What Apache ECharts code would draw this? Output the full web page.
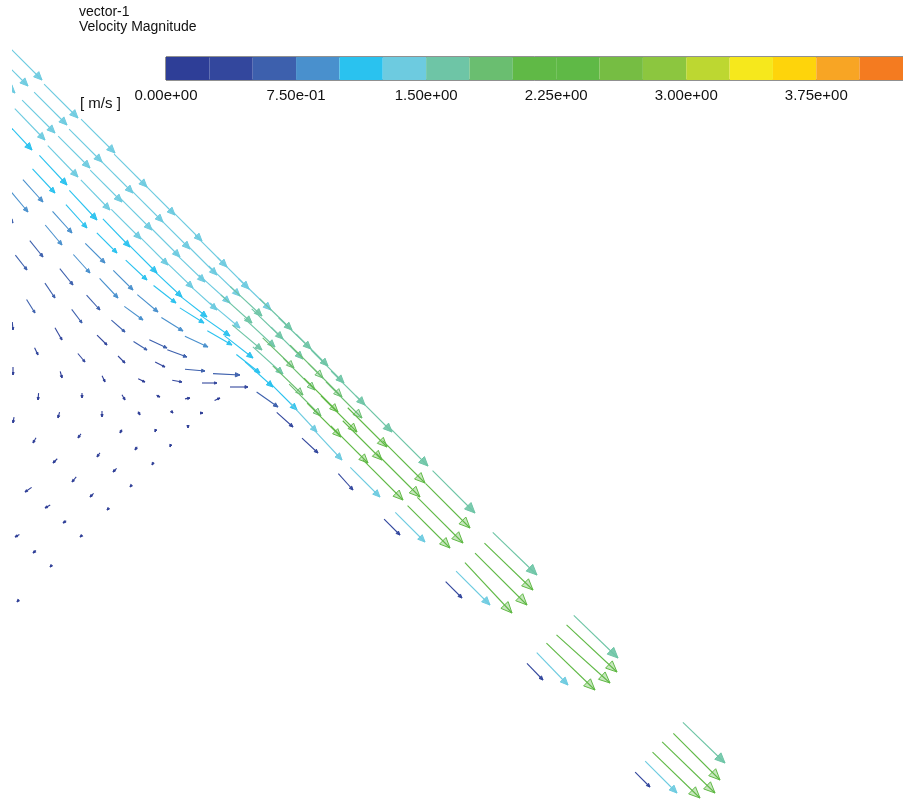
<!DOCTYPE html>
<html>
<head>
<meta charset="utf-8">
<script src="https://cdn.jsdelivr.net/npm/echarts@6/dist/echarts.min.js"></script>
<style>
  html, body { margin: 0; padding: 0; background: #ffffff; }
  #chart { width: 903px; height: 804px; }
</style>
</head>
<body>
<div id="chart"></div>
<script>
// Velocity-magnitude colour scale: 0.25 m/s per band
const bandStep = 0.25;
const bandColors = [
  '#2e3e97', '#33479d', '#3d60ad', '#4990cd', '#2ac2ef', '#6dcbe0', '#6ec5a6', '#6abe70',
  '#60b946', '#5fb946', '#76bd43', '#8cc63f', '#bdd731', '#f6e81c', '#fed40b', '#f8a524',
  '#f47b20', '#ef5523', '#e83526', '#e0202a'
];
const scaleMin = 0;
const scaleMax = 4.25;
const scaleTickStep = 0.75;

// Vector rows: [tipX, tipY, direction (deg, clockwise from +x), in-plane speed (m/s), velocity magnitude (m/s)]
const lineA = [
  [42, 80, 45, 1.6, 1.40], [78, 118, 45, 1.6, 1.40], [115, 153, 45, 1.6, 1.41], [147, 187, 45, 1.55, 1.42],
  [175, 215, 45, 1.5, 1.43], [202, 241, 45, 1.5, 1.44], [227, 267, 45, 1.5, 1.45], [249, 289, 45, 1.5, 1.46],
  [271, 310, 44, 1.5, 1.48], [292, 330, 44, 1.5, 1.50], [311, 349, 44, 1.5, 1.52], [328, 366, 45, 1.5, 1.55],
  [344, 383, 45, 1.55, 1.57], [365, 405, 45, 1.6, 1.60], [392, 432, 45, 1.7, 1.62], [428, 466, 45, 1.8, 1.64],
  [475, 513, 45, 2.0, 1.66],
  [537, 575, 44, 2.05, 1.68], [618, 658, 44, 2.05, 1.68], [725, 763, 44, 1.95, 1.66]
];
const lineB = [
  [28, 86, 45, 1.55, 1.38], [67, 125, 45, 1.55, 1.38], [102, 162, 45, 1.55, 1.39], [133, 193, 45, 1.5, 1.40],
  [163, 222, 45, 1.5, 1.41], [190, 249, 45, 1.5, 1.42], [217, 275, 45, 1.45, 1.44], [240, 296, 44, 1.45, 1.46],
  [262, 316, 43, 1.45, 1.50], [283, 339, 44, 1.45, 1.58], [303, 359, 45, 1.5, 1.70], [323, 378, 45, 1.55, 1.80],
  [342, 397, 45, 1.6, 1.88], [362, 418, 45, 1.7, 1.95], [387, 447, 45, 1.85, 2.00], [425, 483, 45, 2.0, 2.02],
  [470, 528, 45, 2.1, 2.04],
  [533, 590, 44, 2.25, 2.05], [617, 672, 43, 2.3, 2.05], [720, 780, 45, 2.2, 2.05]
];
const lineC = [
  [15, 93, 45, 1.55, 1.37], [55, 133, 45, 1.55, 1.37], [90, 168, 45, 1.5, 1.38], [122, 202, 45, 1.5, 1.39],
  [152, 230, 45, 1.5, 1.40], [180, 257, 45, 1.45, 1.42], [205, 282, 44, 1.45, 1.44], [230, 303, 42, 1.4, 1.47],
  [252, 323, 42, 1.4, 1.52], [275, 347, 43, 1.4, 1.62], [294, 368, 44, 1.45, 1.78], [315, 390, 45, 1.5, 1.92],
  [338, 412, 45, 1.6, 2.02], [357, 432, 45, 1.7, 2.08], [382, 460, 45, 1.85, 2.12], [420, 497, 45, 2.05, 2.14],
  [463, 543, 45, 2.15, 2.15],
  [527, 605, 45, 2.45, 2.15], [610, 683, 42, 2.4, 2.15], [715, 793, 44, 2.45, 2.15]
];
const lineD = [
  [45, 140, 46, 1.45, 1.30], [78, 177, 46, 1.45, 1.30], [110, 210, 46, 1.4, 1.31], [141, 239, 45, 1.4, 1.32],
  [168, 265, 45, 1.35, 1.34], [193, 288, 44, 1.35, 1.36], [217, 310, 42, 1.3, 1.39], [240, 328, 40, 1.3, 1.43],
  [262, 350, 40, 1.3, 1.50], [283, 374, 42, 1.35, 1.62], [303, 395, 44, 1.4, 1.80], [321, 416, 45, 1.5, 1.95],
  [341, 437, 45, 1.6, 2.05], [368, 463, 45, 1.75, 2.10], [403, 500, 45, 1.9, 2.12], [450, 548, 45, 2.0, 2.12],
  [512, 613, 47, 2.3, 2.10], [595, 690, 44, 2.25, 2.10], [700, 798, 44, 2.2, 2.10]
];
const lineE = [
  [32, 150, 47, 1.4, 1.20], [67, 185, 47, 1.35, 1.20], [97, 220, 47, 1.35, 1.20], [130, 247, 46, 1.3, 1.20],
  [157, 273, 45, 1.3, 1.20], [182, 297, 43, 1.25, 1.20], [207, 317, 38, 1.2, 1.20], [230, 336, 35, 1.2, 1.20],
  [253, 358, 38, 1.2, 1.18], [273, 387, 42, 1.25, 1.15], [297, 410, 45, 1.3, 1.20], [317, 432, 47, 1.3, 1.25],
  [342, 460, 47, 1.35, 1.30], [380, 497, 45, 1.4, 1.32], [425, 542, 45, 1.4, 1.34],
  [490, 605, 45, 1.6, 1.38], [568, 685, 46, 1.5, 1.38], [677, 793, 45, 1.5, 1.38]
];
const lineF = [
  [55, 193, 47, 1.1, 1.10], [87, 228, 48, 1.05, 1.10], [117, 253, 45, 0.95, 1.10], [147, 280, 43, 0.97, 1.12],
  [176, 303, 38, 0.95, 1.12], [204, 323, 32, 0.95, 1.12], [232, 345, 30, 0.95, 1.14], [260, 373, 38, 1.0, 1.12]
];
const lineG = [
  [43, 202, 48, 1.0, 0.95], [72, 233, 48, 0.97, 0.95], [105, 263, 45, 0.93, 0.92], [133, 290, 45, 0.93, 0.90],
  [158, 312, 40, 0.9, 0.88], [183, 331, 32, 0.85, 0.85], [208, 347, 25, 0.85, 0.82]
];
const lineH = [
  [28, 212, 50, 0.95, 0.85], [62, 245, 50, 0.87, 0.82], [90, 273, 48, 0.83, 0.80], [118, 298, 47, 0.9, 0.78],
  [143, 320, 36, 0.77, 0.75], [167, 348, 25, 0.65, 0.62]
];
const lineI = [
  [13, 223, 55, 0.7, 0.70], [43, 257, 51, 0.7, 0.68], [73, 285, 51, 0.7, 0.65], [100, 310, 48, 0.67, 0.60],
  [125, 332, 41, 0.6, 0.55], [147, 350, 32, 0.53, 0.50]
];
const lineJ = [
  [27, 270, 52, 0.63, 0.60], [55, 298, 56, 0.6, 0.56], [82, 323, 53, 0.57, 0.50], [107, 345, 45, 0.47, 0.42]
];
const lineK = [
  [35, 313, 58, 0.53, 0.50], [62, 340, 60, 0.47, 0.42], [85, 362, 50, 0.37, 0.32],
  [13, 330, 85, 0.27, 0.28], [38, 355, 65, 0.27, 0.25], [13, 375, 90, 0.27, 0.22]
];
// slow stream entering the jet from below, and the lowest jet row
const feeder = [
  [187, 357, 20, 0.7, 0.55], [205, 371, 5, 0.67, 0.50], [240, 375, 3, 0.9, 0.62], [217, 383, 0, 0.5, 0.38],
  [248, 387, 0, 0.6, 0.42], [278, 407, 35, 0.87, 0.50], [293, 427, 42, 0.73, 0.42], [318, 453, 43, 0.73, 0.38],
  [353, 490, 48, 0.73, 0.35], [400, 535, 45, 0.75, 0.35],
  [462, 598, 45, 0.77, 0.32], [543, 680, 46, 0.77, 0.32], [650, 787, 45, 0.7, 0.32]
];
// recirculation zone under the jet
const recirculation = [
  [125, 363, 45, 0.33, 0.30], [165, 367, 27, 0.37, 0.30], [62, 378, 75, 0.23, 0.20], [105, 382, 65, 0.23, 0.20],
  [145, 382, 25, 0.25, 0.20], [182, 382, 10, 0.33, 0.25], [38, 400, 95, 0.23, 0.15], [82, 398, 90, 0.17, 0.12],
  [125, 400, 60, 0.2, 0.12], [160, 397, 25, 0.13, 0.10], [190, 398, -10, 0.17, 0.10], [220, 398, -25, 0.2, 0.12],
  [13, 423, 100, 0.2, 0.12], [58, 418, 105, 0.2, 0.12], [102, 417, 90, 0.2, 0.12], [140, 415, 60, 0.13, 0.08],
  [173, 413, 45, 0.07, 0.05], [203, 413, 0, 0.07, 0.05], [33, 443, 120, 0.2, 0.12], [78, 438, 125, 0.17, 0.10],
  [120, 433, 120, 0.13, 0.08], [155, 432, 110, 0.1, 0.06], [188, 428, 90, 0.07, 0.04], [53, 463, 135, 0.2, 0.12],
  [97, 457, 125, 0.17, 0.10], [135, 450, 125, 0.13, 0.08], [170, 447, 110, 0.07, 0.04], [25, 492, 145, 0.27, 0.15],
  [72, 482, 130, 0.22, 0.12], [113, 472, 135, 0.17, 0.10], [152, 465, 120, 0.1, 0.06], [45, 508, 150, 0.2, 0.12],
  [90, 497, 135, 0.17, 0.10], [130, 487, 130, 0.07, 0.04], [63, 523, 145, 0.13, 0.08], [107, 510, 135, 0.07, 0.04],
  [15, 537, 150, 0.17, 0.10], [80, 537, 140, 0.1, 0.06], [33, 553, 140, 0.13, 0.08], [50, 567, 135, 0.07, 0.04],
  [17, 602, 130, 0.1, 0.06]
];

const vectors = [].concat(lineA, lineB, lineC, lineD, lineE, lineF, lineG, lineH, lineI, lineJ, lineK,
  feeder, recirculation);
const bands = bandColors.map((c, i) => [i * bandStep, (i + 1) * bandStep, i]);

// arrow length per m/s of in-plane speed, in plot units
const ARROW_SCALE = 30;
const FONT = '"Liberation Sans", Arial, sans-serif';

function bandIndex(v) {
  return Math.max(0, Math.min(bandColors.length - 1, Math.floor(v / bandStep)));
}

function sci(v) {
  const parts = Number(v).toExponential(2).split('e');
  const n = parseInt(parts[1], 10);
  return parts[0] + 'e' + (n < 0 ? '-' : '+') + String(Math.abs(n)).padStart(2, '0');
}

function renderArrow(params, api) {
  const tx = api.value(0), ty = api.value(1);
  const a = api.value(2) * Math.PI / 180;
  const len = api.value(3) * ARROW_SCALE;
  const speed = api.value(4);
  const tip = api.coord([tx, ty]);
  const tail = api.coord([tx - len * Math.cos(a), ty - len * Math.sin(a)]);
  const dx = tip[0] - tail[0], dy = tip[1] - tail[1];
  const L = Math.hypot(dx, dy) || 1;
  const ux = dx / L, uy = dy / L;
  const h = Math.max(2.5, Math.min(11, 0.17 * L));
  const w = 0.45 * h;
  const bx = tip[0] - ux * h, by = tip[1] - uy * h;
  const color = bandColors[bandIndex(speed)];
  const hollow = speed >= 1.75;
  return {
    type: 'group',
    children: [
      { type: 'line', shape: { x1: tail[0], y1: tail[1], x2: tip[0], y2: tip[1] },
        style: { stroke: color, lineWidth: 1.1 } },
      { type: 'polygon',
        shape: { points: [[tip[0], tip[1]], [bx - uy * w, by + ux * w], [bx + uy * w, by - ux * w]] },
        style: { fill: color, fillOpacity: hollow ? 0.35 : 0.9, stroke: color, lineWidth: 1 } }
    ]
  };
}

function renderBand(params, api) {
  const p0 = api.coord([api.value(0), 1]);
  const p1 = api.coord([api.value(1), 0]);
  return {
    type: 'rect',
    shape: { x: p0[0], y: p0[1], width: p1[0] - p0[0], height: p1[1] - p0[1] },
    style: { fill: bandColors[api.value(2)] }
  };
}

const chart = echarts.init(document.getElementById('chart'), null, { renderer: 'canvas' });
chart.setOption({
  animation: false,
  backgroundColor: '#ffffff',
  grid: [
    { left: 12, right: 0, top: 0, bottom: 0 },
    { left: 166, top: 57, width: 754, height: 23, show: true, borderColor: '#222', borderWidth: 1,
      backgroundColor: 'transparent', z: 5 }
  ],
  xAxis: [
    { gridIndex: 0, type: 'value', min: 12, max: 903, show: false },
    { gridIndex: 1, type: 'value', min: scaleMin, max: scaleMax, interval: scaleTickStep,
      axisLine: { show: false }, axisTick: { show: false }, splitLine: { show: false },
      axisLabel: { show: true, margin: 8, fontSize: 15, fontFamily: FONT, color: '#111',
        showMaxLabel: false, formatter: sci } }
  ],
  yAxis: [
    { gridIndex: 0, type: 'value', min: 0, max: 804, inverse: true, show: false },
    { gridIndex: 1, type: 'value', min: 0, max: 1, show: false }
  ],
  graphic: [
    { type: 'text', left: 79, top: 5, style: { text: 'vector-1', font: '14px ' + FONT, fill: '#111' } },
    { type: 'text', left: 79, top: 20, style: { text: 'Velocity Magnitude', font: '14px ' + FONT, fill: '#111' } },
    { type: 'text', left: 80, top: 96, style: { text: '[ m/s ]', font: '15px ' + FONT, fill: '#111' } }
  ],
  series: [
    { type: 'custom', xAxisIndex: 0, yAxisIndex: 0, clip: true, renderItem: renderArrow, data: vectors, z: 2 },
    { type: 'custom', xAxisIndex: 1, yAxisIndex: 1, clip: true, renderItem: renderBand, data: bands, z: 6 }
  ]
});
</script>
</body>
</html>
